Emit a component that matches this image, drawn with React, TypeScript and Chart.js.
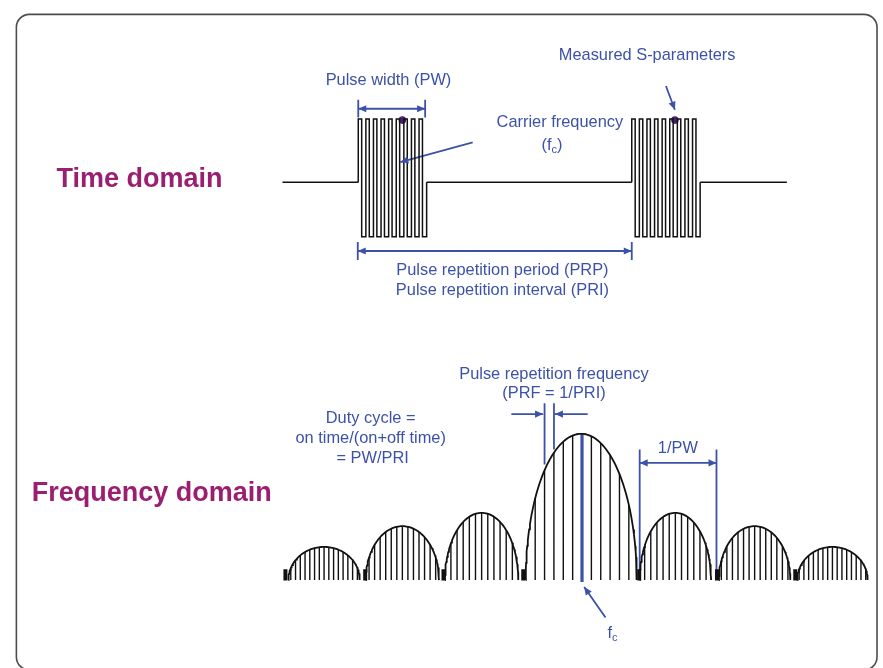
import { useEffect, useRef } from 'react';
import { Chart, registerables } from 'chart.js';

Chart.register(...registerables);

const CANVAS_W = 883;
const CANVAS_H = 668;

// ---------- Time domain ----------
const timeBaselineSegments = [
  [281, 357.5],
  [426.5, 633.5],
  [702.5, 790],
];
const burstStarts = [357.5, 633.5];
const burstWidth = 69;
const burstTeeth = 9;
const toothTopFraction = 0.45;
const timeLevels = [180.5, 116.5, 235.5]; // base, top, bottom
const sParamDots = [
  [402, 117.5],
  [677, 117.5],
];

// ---------- Frequency domain ----------
const lobeCenters = [323, 402, 482, 582.5, 677.5, 757.5, 836];
const lobeHalfWidths = [36, 37, 37, 56, 36, 36, 35.5];
const lobePeaks = [549.5, 528.5, 515, 435, 515, 528.5, 549.5];
const lobeLineSpacing = [4.8, 5.6, 6.2, 9.45, 6.2, 5.6, 4.8];
const lobeLineOrigin = [323, 402, 482, 583.3, 677.5, 757.5, 836];
const freqBase = 583;
const nullMarkers = [284, 364.5, 443.5, 524, 641, 719.5, 798.5];
const nullMarkerTop = 572;
const carrierLine = [583.3, 435.5, 585];

// ---------- Annotations ----------
const blueTicks = [
  [357.5, 97, 115],
  [425, 97, 115],
  [357, 241, 259],
  [633.5, 241, 259],
  [545.5, 404, 466],
  [555, 404, 451],
  [641.5, 451, 583],
  [719, 451, 583],
];
const arrowFrom = [
  [357.5, 106], [425, 106],
  [357, 250], [633.5, 250],
  [473, 140],
  [668, 83],
  [512, 415],
  [589, 415],
  [641.5, 464.5], [719, 464.5],
  [607, 621],
];
const arrowTo = [
  [425, 106], [357.5, 106],
  [633.5, 250], [357, 250],
  [400, 160],
  [677, 107],
  [544, 415],
  [556, 415],
  [719, 464.5], [641.5, 464.5],
  [585.5, 590],
];
const arrowDrawShaft = [true, false, true, false, true, true, true, true, true, false, true];

const blueTexts = [
  'Measured S-parameters',
  'Pulse width (PW)',
  'Carrier frequency',
  '(f_c)',
  'Pulse repetition period (PRP)',
  'Pulse repetition interval (PRI)',
  'Pulse repetition frequency',
  '(PRF = 1/PRI)',
  'Duty cycle =',
  'on time/(on+off time)',
  '= PW/PRI',
  '1/PW',
  'f_c',
];
const blueTextX = [649, 388, 561, 553, 503, 503, 555, 555, 370, 370, 372, 680, 614];
const blueTextY = [52, 77, 120, 143, 270, 290, 375, 394, 420, 440, 460, 450, 637];

const titleTexts = ['Time domain', 'Frequency domain'];
const titleX = [53, 28];
const titleY = [178, 495];

const BLUE = '#3c52a8';
const TITLE = '#9b1f70';
const DOT = '#4b1f74';
const INK = '#111111';

type P = { x: number; y: number | null };
const GAP: P = { x: 0, y: null };

function timeSignal(): P[] {
  const [base, top, bottom] = timeLevels;
  const pts: P[] = [];
  timeBaselineSegments.forEach(([a, b]) => {
    pts.push({ x: a, y: base }, { x: b, y: base }, GAP);
  });
  burstStarts.forEach((x0) => {
    const period = burstWidth / burstTeeth;
    const tw = period * toothTopFraction;
    pts.push({ x: x0, y: base });
    for (let k = 0; k < burstTeeth; k++) {
      const xs = x0 + k * period;
      pts.push({ x: xs, y: top }, { x: xs + tw, y: top }, { x: xs + tw, y: bottom }, { x: xs + period, y: bottom });
    }
    pts.push({ x: x0 + burstWidth, y: base }, GAP);
  });
  return pts;
}

function lobeY(i: number, x: number): number | null {
  const c = lobeCenters[i];
  const a = lobeHalfWidths[i];
  const u = (x - c) / a;
  if (Math.abs(u) > 1) return null;
  return freqBase - (freqBase - lobePeaks[i]) * Math.sqrt(1 - u * u);
}

function lobeCurves(): P[] {
  const pts: P[] = [];
  lobeCenters.forEach((c, i) => {
    const a = lobeHalfWidths[i];
    const h = freqBase - lobePeaks[i];
    for (let s = 0; s <= 80; s++) {
      const t = Math.PI - (Math.PI * s) / 80;
      pts.push({ x: c + a * Math.cos(t), y: freqBase - h * Math.sin(t) });
    }
    pts.push(GAP);
  });
  return pts;
}

function spectralLines(): P[] {
  const pts: P[] = [];
  lobeCenters.forEach((c, i) => {
    const a = lobeHalfWidths[i];
    const s = lobeLineSpacing[i];
    const o = lobeLineOrigin[i];
    for (let k = -20; k <= 20; k++) {
      const x = o + k * s;
      if (Math.abs(x - c) >= a - 0.8) continue;
      if (i === 3 && Math.abs(x - carrierLine[0]) < 1) continue;
      const y = lobeY(i, x);
      if (y === null) continue;
      pts.push({ x, y }, { x, y: freqBase }, GAP);
    }
  });
  return pts;
}

function markers(): P[] {
  const pts: P[] = [];
  nullMarkers.forEach((x) => pts.push({ x, y: nullMarkerTop }, { x, y: freqBase + 0.5 }, GAP));
  return pts;
}

function blueShafts(): P[] {
  const pts: P[] = [];
  blueTicks.forEach(([x, y1, y2]) => pts.push({ x, y: y1 }, { x, y: y2 }, GAP));
  arrowFrom.forEach((f, i) => {
    if (!arrowDrawShaft[i]) return;
    const t = arrowTo[i];
    pts.push({ x: f[0], y: f[1] }, { x: t[0], y: t[1] }, GAP);
  });
  return pts;
}

function lineDs(data: P[], color: string, width: number) {
  return {
    data,
    showLine: true,
    borderColor: color,
    borderWidth: width,
    pointRadius: 0,
    spanGaps: false,
    fill: false,
    borderCapStyle: 'butt' as const,
    borderJoinStyle: 'miter' as const,
  };
}

const framePlugin = {
  id: 'frame',
  beforeDatasetsDraw(chart: any) {
    const { ctx, scales } = chart;
    const x = scales.x, y = scales.y;
    const l = x.getPixelForValue(12.5), r = x.getPixelForValue(881);
    const t = y.getPixelForValue(10.5), b = y.getPixelForValue(674);
    ctx.save();
    ctx.strokeStyle = '#4d4d4d';
    ctx.lineWidth = 1.6;
    ctx.beginPath();
    ctx.roundRect(l, t, r - l, b - t, 13);
    ctx.stroke();
    ctx.restore();
  },
};

const annotationPlugin = {
  id: 'annot',
  afterDatasetsDraw(chart: any) {
    const { ctx, scales } = chart;
    const sx = (v: number) => scales.x.getPixelForValue(v);
    const sy = (v: number) => scales.y.getPixelForValue(v);
    ctx.save();
    // arrowheads
    ctx.fillStyle = BLUE;
    arrowFrom.forEach((f, i) => {
      const t = arrowTo[i];
      const x1 = sx(f[0]), y1 = sy(f[1]), x2 = sx(t[0]), y2 = sy(t[1]);
      const ang = Math.atan2(y2 - y1, x2 - x1);
      const len = 8, hw = 3.6;
      ctx.beginPath();
      ctx.moveTo(x2, y2);
      ctx.lineTo(x2 - len * Math.cos(ang) + hw * Math.sin(ang), y2 - len * Math.sin(ang) - hw * Math.cos(ang));
      ctx.lineTo(x2 - len * Math.cos(ang) - hw * Math.sin(ang), y2 - len * Math.sin(ang) + hw * Math.cos(ang));
      ctx.closePath();
      ctx.fill();
    });
    // texts
    const mainFont = '16.4px "Liberation Sans", Arial, sans-serif';
    const subFont = '11px "Liberation Sans", Arial, sans-serif';
    ctx.textBaseline = 'middle';
    ctx.textAlign = 'left';
    blueTexts.forEach((txt, i) => {
      const parts: { t: string; sub: boolean }[] = [];
      let buf = '';
      for (let k = 0; k < txt.length; k++) {
        if (txt[k] === '_' && k + 1 < txt.length) {
          if (buf) parts.push({ t: buf, sub: false });
          buf = '';
          parts.push({ t: txt[k + 1], sub: true });
          k++;
        } else buf += txt[k];
      }
      if (buf) parts.push({ t: buf, sub: false });
      let total = 0;
      parts.forEach((p) => {
        ctx.font = p.sub ? subFont : mainFont;
        total += ctx.measureText(p.t).width;
      });
      let x = sx(blueTextX[i]) - total / 2;
      const y = sy(blueTextY[i]);
      ctx.fillStyle = BLUE;
      parts.forEach((p) => {
        ctx.font = p.sub ? subFont : mainFont;
        ctx.fillText(p.t, x, p.sub ? y + 5 : y);
        x += ctx.measureText(p.t).width;
      });
    });
    ctx.font = 'bold 27px "Liberation Sans", Arial, sans-serif';
    ctx.fillStyle = TITLE;
    titleTexts.forEach((t, i) => ctx.fillText(t, sx(titleX[i]), sy(titleY[i])));
    ctx.restore();
  },
};

export default function App() {
  const ref = useRef<HTMLCanvasElement>(null);
  useEffect(() => {
    const canvas = ref.current;
    if (!canvas) return;
    const chart = new Chart(canvas, {
      type: 'scatter',
      data: {
        datasets: [
          lineDs(timeSignal(), INK, 1.5),
          lineDs(lobeCurves(), INK, 1.8),
          lineDs(spectralLines(), INK, 1.4),
          lineDs(markers(), INK, 4),
          lineDs(blueShafts(), BLUE, 1.8),
          lineDs(
            [
              { x: carrierLine[0], y: carrierLine[1] },
              { x: carrierLine[0], y: carrierLine[2] },
            ],
            BLUE,
            3.2
          ),
          {
            data: sParamDots.map(([x, y]) => ({ x, y })),
            showLine: false,
            pointRadius: 3.8,
            pointBackgroundColor: DOT,
            pointBorderWidth: 0,
          },
        ] as any,
      },
      options: {
        animation: false,
        responsive: false,
        devicePixelRatio: 1,
        events: [],
        layout: { padding: 0 },
        plugins: { legend: { display: false }, tooltip: { enabled: false } },
        scales: {
          x: { type: 'linear', display: false, min: 0, max: CANVAS_W },
          y: { type: 'linear', display: false, min: 0, max: CANVAS_H, reverse: true },
        },
      },
      plugins: [framePlugin, annotationPlugin],
    });
    return () => chart.destroy();
  }, []);
  return (
    <div style={{ position: 'fixed', left: 0, top: 0, width: CANVAS_W, height: CANVAS_H, background: '#fff' }}>
      <canvas ref={ref} width={CANVAS_W} height={CANVAS_H} style={{ display: 'block', width: CANVAS_W, height: CANVAS_H }} />
    </div>
  );
}
